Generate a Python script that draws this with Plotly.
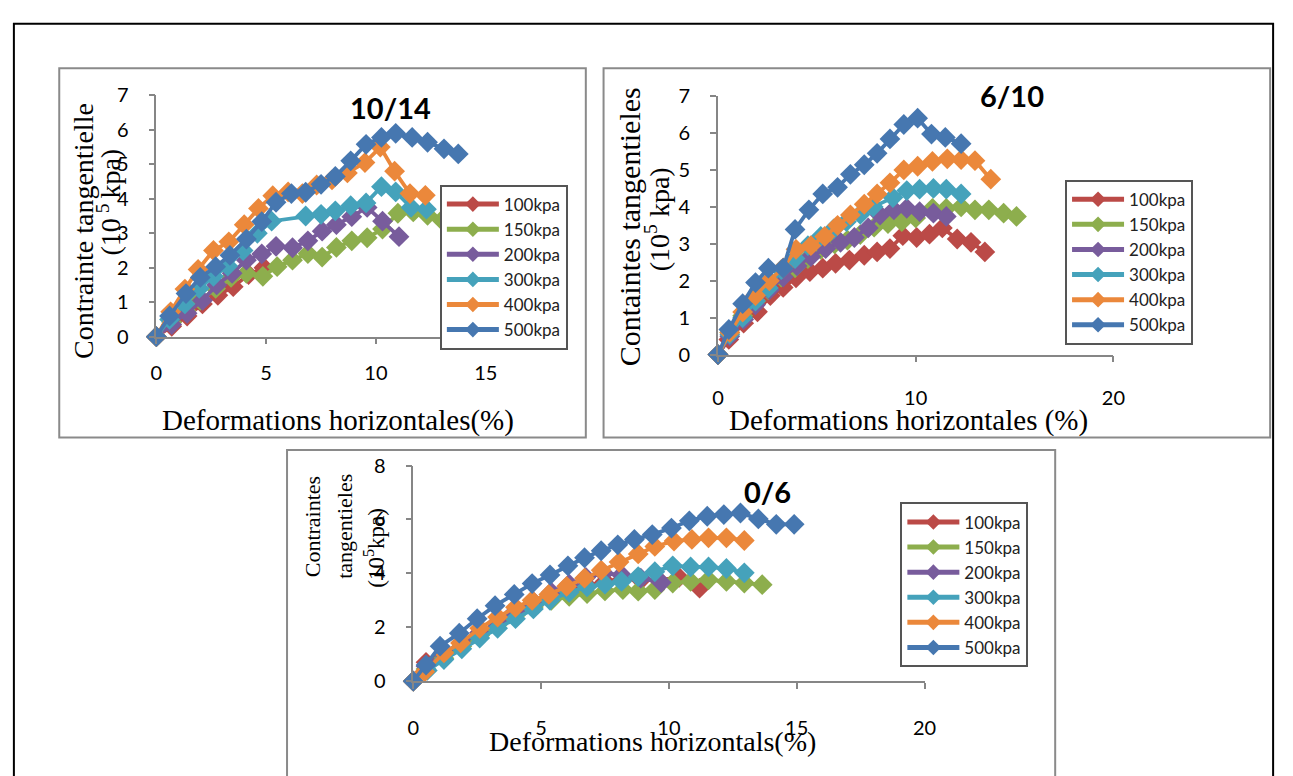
import plotly.graph_objects as go

W, H = 1293, 776

# ---- panel "10/14" ----
x_1014_100 = [0, 0.7, 1.4, 2.1, 2.8, 3.5, 4.2, 4.9]
y_1014_100 = [0, 0.3, 0.6, 0.95, 1.2, 1.45, 1.8, 2.0]
x_1014_150 = [0, 0.7, 1.35, 2.0, 2.7, 3.4, 4.1, 4.85, 5.5, 6.2, 6.9, 7.55, 8.2, 8.9, 9.6, 10.3, 11.0, 11.7, 12.35, 13.0]
y_1014_150 = [0, 0.42, 0.75, 1.05, 1.4, 1.72, 1.84, 1.75, 2.03, 2.22, 2.41, 2.31, 2.59, 2.78, 2.87, 3.12, 3.58, 3.62, 3.52, 3.38]
x_1014_200 = [0, 0.7, 1.4, 2.1, 2.75, 3.45, 4.1, 4.8, 5.45, 6.2, 6.9, 7.55, 8.2, 8.9, 9.6, 10.3, 11.05]
y_1014_200 = [0, 0.35, 0.68, 1.05, 1.5, 1.84, 2.22, 2.4, 2.62, 2.58, 2.78, 3.06, 3.25, 3.48, 3.75, 3.35, 2.9]
x_1014_300 = [0, 0.6, 1.3, 1.95, 2.6, 3.25, 3.95, 4.6, 5.25, 6.8, 7.5, 8.15, 8.85, 9.55, 10.25, 10.9, 11.6, 12.3]
y_1014_300 = [0, 0.5, 0.95, 1.4, 1.75, 2.05, 2.5, 3.0, 3.35, 3.5, 3.55, 3.65, 3.8, 3.88, 4.35, 4.2, 3.75, 3.7]
x_1014_400 = [0, 0.65, 1.3, 1.9, 2.6, 3.3, 4.0, 4.65, 5.3, 6.0, 6.65, 7.3, 8.0, 8.7, 9.5, 10.2, 10.85, 11.55, 12.25]
y_1014_400 = [0, 0.72, 1.38, 1.95, 2.5, 2.75, 3.25, 3.72, 4.09, 4.2, 4.15, 4.4, 4.55, 4.75, 5.05, 5.5, 4.8, 4.15, 4.1]
x_1014_500 = [0, 0.6, 1.35, 2.0, 2.7, 3.35, 4.1, 4.8, 5.45, 6.15, 6.8, 7.5, 8.15, 8.85, 9.55, 10.25, 10.9, 11.65, 12.35, 13.1, 13.75]
y_1014_500 = [0, 0.6, 1.25, 1.72, 2.03, 2.36, 2.83, 3.34, 3.9, 4.15, 4.19, 4.42, 4.65, 5.1, 5.58, 5.78, 5.9, 5.78, 5.64, 5.45, 5.3]

# ---- panel "6/10" ----
x_610_100 = [0, 0.55, 1.3, 2.0, 2.65, 3.3, 3.95, 4.65, 5.3, 5.95, 6.65, 7.4, 8.05, 8.7, 9.35, 10.05, 10.7, 11.35, 12.1, 12.8, 13.5]
y_610_100 = [0, 0.41, 0.85, 1.16, 1.6, 1.82, 2.08, 2.25, 2.34, 2.47, 2.56, 2.69, 2.78, 2.87, 3.22, 3.17, 3.26, 3.43, 3.13, 3.04, 2.78]
x_610_150 = [0, 0.6, 1.25, 1.9, 2.55, 3.2, 3.9, 4.55, 5.2, 5.9, 6.55, 7.2, 7.9, 8.6, 9.3, 10.0, 10.85, 11.55, 12.3, 13.0, 13.7, 14.45, 15.1]
y_610_150 = [0, 0.6, 1.05, 1.45, 1.75, 2.1, 2.35, 2.6, 2.85, 3.0, 3.1, 3.25, 3.45, 3.55, 3.6, 3.7, 3.96, 3.96, 4.0, 3.92, 3.92, 3.83, 3.74]
x_610_200 = [0, 0.6, 1.3, 1.9, 2.6, 3.3, 4.0, 4.7, 5.45, 6.2, 6.9, 7.6, 8.2, 8.9, 9.55, 10.2, 10.9, 11.55]
y_610_200 = [0, 0.5, 0.95, 1.35, 1.75, 2.1, 2.4, 2.65, 2.87, 3.04, 3.17, 3.43, 3.78, 3.92, 3.96, 3.87, 3.83, 3.74]
x_610_300 = [0, 0.6, 1.25, 1.9, 2.55, 3.2, 3.9, 4.55, 5.2, 5.85, 6.5, 7.2, 7.85, 8.85, 9.55, 10.2, 10.9, 11.55, 12.3]
y_610_300 = [0, 0.55, 1.0, 1.45, 1.8, 2.3, 2.6, 2.95, 3.2, 3.4, 3.6, 3.8, 4.0, 4.25, 4.44, 4.48, 4.5, 4.48, 4.35]
x_610_400 = [0, 0.6, 1.25, 1.9, 2.6, 3.3, 3.95, 4.7, 5.4, 6.05, 6.7, 7.4, 8.05, 8.7, 9.4, 10.1, 10.85, 11.6, 12.3, 13.0, 13.8]
y_610_400 = [0, 0.6, 1.15, 1.6, 2.0, 2.35, 2.85, 2.95, 3.2, 3.5, 3.78, 4.07, 4.35, 4.65, 5.0, 5.1, 5.23, 5.3, 5.28, 5.25, 4.75]
x_610_500 = [0, 0.55, 1.25, 1.9, 2.55, 3.3, 3.9, 4.6, 5.3, 6.05, 6.7, 7.4, 8.05, 8.7, 9.4, 10.1, 10.8, 11.5, 12.3]
y_610_500 = [0, 0.68, 1.38, 1.95, 2.34, 2.34, 3.39, 3.92, 4.35, 4.53, 4.88, 5.14, 5.45, 5.84, 6.23, 6.4, 5.97, 5.88, 5.71]

# ---- panel "0/6" ----
x_06_100 = [0, 0.5, 1.2, 1.9, 2.6, 3.3, 4.0, 4.7, 5.4, 6.1, 6.8, 7.5, 8.2, 8.9, 9.6, 10.4, 11.2]
y_06_100 = [0, 0.7, 1.05, 1.45, 1.8, 2.15, 2.5, 2.8, 3.1, 3.35, 3.55, 3.7, 3.8, 3.75, 3.75, 3.85, 3.45]
x_06_150 = [0, 0.5, 1.2, 1.9, 2.6, 3.3, 4.0, 4.7, 5.4, 6.1, 6.8, 7.5, 8.2, 8.8, 9.45, 10.15, 10.85, 11.55, 12.25, 12.95, 13.65]
y_06_150 = [0, 0.45, 0.85, 1.3, 1.7, 2.1, 2.45, 2.75, 3.0, 3.15, 3.25, 3.35, 3.4, 3.34, 3.4, 3.64, 3.7, 3.76, 3.7, 3.64, 3.58]
x_06_200 = [0, 0.5, 1.2, 1.9, 2.6, 3.3, 4.0, 4.7, 5.4, 6.1, 6.75, 7.45, 8.15, 8.9, 9.7]
y_06_200 = [0, 0.55, 1.0, 1.4, 1.8, 2.2, 2.6, 2.95, 3.3, 3.6, 3.85, 4.0, 3.94, 3.82, 3.66]
x_06_300 = [0, 0.55, 1.2, 1.9, 2.6, 3.3, 4.0, 4.7, 5.35, 6.1, 6.8, 7.5, 8.15, 8.8, 9.45, 10.15, 10.85, 11.55, 12.25, 12.95]
y_06_300 = [0, 0.4, 0.8, 1.2, 1.6, 1.96, 2.32, 2.68, 3.0, 3.3, 3.5, 3.6, 3.7, 3.88, 4.06, 4.28, 4.24, 4.24, 4.18, 4.02]
x_06_400 = [0, 0.45, 1.2, 1.85, 2.6, 3.3, 4.0, 4.65, 5.3, 6.0, 6.7, 7.35, 8.05, 8.8, 9.45, 10.2, 10.9, 11.55, 12.25, 12.95]
y_06_400 = [0, 0.35, 1.05, 1.42, 1.96, 2.38, 2.74, 3.0, 3.22, 3.52, 3.82, 4.12, 4.42, 4.72, 5.0, 5.2, 5.26, 5.32, 5.32, 5.22]
x_06_500 = [0, 0.5, 1.05, 1.8, 2.5, 3.2, 3.95, 4.65, 5.35, 6.05, 6.7, 7.35, 8.0, 8.65, 9.35, 10.1, 10.8, 11.5, 12.15, 12.8, 13.5, 14.2, 14.9]
y_06_500 = [0, 0.6, 1.3, 1.78, 2.32, 2.8, 3.22, 3.62, 3.94, 4.28, 4.58, 4.84, 5.06, 5.26, 5.44, 5.68, 5.95, 6.12, 6.18, 6.24, 6.02, 5.82, 5.82]

series_names = ["100kpa", "150kpa", "200kpa", "300kpa", "400kpa", "500kpa"]
series_colors = ["#BB4A47", "#8DAE4D", "#785C9C", "#45A2BB", "#EB883B", "#4677B0"]

panels = [
    ("x", "y", "legend", [(x_1014_100, y_1014_100), (x_1014_150, y_1014_150), (x_1014_200, y_1014_200),
                          (x_1014_300, y_1014_300), (x_1014_400, y_1014_400), (x_1014_500, y_1014_500)]),
    ("x2", "y2", "legend2", [(x_610_100, y_610_100), (x_610_150, y_610_150), (x_610_200, y_610_200),
                             (x_610_300, y_610_300), (x_610_400, y_610_400), (x_610_500, y_610_500)]),
    ("x3", "y3", "legend3", [(x_06_100, y_06_100), (x_06_150, y_06_150), (x_06_200, y_06_200),
                             (x_06_300, y_06_300), (x_06_400, y_06_400), (x_06_500, y_06_500)]),
]


def px(v):
    """Pixel column -> paper x."""
    return v / W


def py(v):
    """Pixel row -> paper y."""
    return 1 - v / H


fig = go.Figure()
for xa, ya, leg, data in panels:
    for name, color, (xs, ys) in zip(series_names, series_colors, data):
        fig.add_trace(go.Scatter(
            x=xs, y=ys, name=name, mode="lines+markers",
            xaxis=xa, yaxis=ya, legend=leg, cliponaxis=False,
            line=dict(color=color, width=3.8),
            marker=dict(symbol="diamond", size=16, color=color, line=dict(width=0)),
        ))

tick_font = dict(family="Lato, Carlito, sans-serif", size=20, color="black")
serif = "Liberation Serif, Times New Roman, serif"
axis_common = dict(showline=True, linecolor="#868686", linewidth=1.5, ticks="outside",
                   ticklen=6, tickcolor="#868686", tickwidth=1.5, showgrid=False,
                   zeroline=False, tickfont=tick_font)

legend_common = dict(bgcolor="white", bordercolor="#555555", borderwidth=2,
                     font=dict(family="Lato, sans-serif", size=17, color="#222"),
                     xanchor="left", yanchor="top", itemsizing="constant",
                     itemwidth=52, traceorder="normal")

fig.update_layout(
    width=W, height=H, margin=dict(l=0, r=0, t=0, b=0),
    paper_bgcolor="white", plot_bgcolor="white",
    xaxis=dict(domain=[px(152.5), px(486.5)], range=[0, 15], dtick=5, anchor="y",
               ticklabelstandoff=12, **axis_common),
    yaxis=dict(domain=[py(334), py(85)], range=[0, 7], dtick=1, anchor="x",
               ticklabelstandoff=16, **axis_common),
    xaxis2=dict(domain=[px(722), px(1123)], range=[0, 20], dtick=10, anchor="y2",
                ticklabelstandoff=19, **axis_common),
    yaxis2=dict(domain=[py(352.5), py(85.7)], range=[0, 7], dtick=1, anchor="x2",
                ticklabelstandoff=16, **axis_common),
    xaxis3=dict(domain=[px(413), px(931.5)], range=[0, 20], dtick=5, anchor="y3",
                ticklabelstandoff=22, **axis_common),
    yaxis3=dict(domain=[py(689.5), py(467)], range=[0, 8], dtick=2, anchor="x3",
                ticklabelstandoff=16, **axis_common),
    legend=dict(x=px(440), y=py(177), **legend_common),
    legend2=dict(x=px(1074), y=py(172), **legend_common),
    legend3=dict(x=px(907), y=py(505), **legend_common),
    showlegend=True,
)

# Frames: outer black border and the three grey chart boxes
shapes = [
    dict(x0=px(8), x1=px(1285), y0=py(11), y1=py(900), line=dict(color="black", width=2)),
    dict(x0=px(54), x1=px(588), y0=py(57), y1=py(438), line=dict(color="#8a8a8a", width=2)),
    dict(x0=px(606), x1=px(1282), y0=py(57), y1=py(438), line=dict(color="#8a8a8a", width=2)),
    dict(x0=px(285), x1=px(1064), y0=py(451), y1=py(900), line=dict(color="#8a8a8a", width=2)),
]
for s in shapes:
    fig.add_shape(type="rect", xref="paper", yref="paper", fillcolor="rgba(0,0,0,0)",
                  layer="below", **s)


def note(text, x, y, size, family=serif, angle=0, bold=False):
    fig.add_annotation(text=f"<b>{text}</b>" if bold else text, x=px(x), y=py(y),
                       xref="paper", yref="paper", showarrow=False, textangle=angle,
                       xanchor="center", yanchor="middle",
                       font=dict(family=family, size=size, color="black"))


sans_bold = "Lato, Open Sans, sans-serif"
note("10/14", 390, 98, 29, sans_bold, bold=True)
note("6/10", 1020, 85, 29, sans_bold, bold=True)
note("0/6", 772, 494, 29, sans_bold, bold=True)

note("Contrainte tangentielle", 78, 225, 28, angle=-90)
note("(10<sup> 5 </sup>kpa)", 105, 195, 28, angle=-90)
note("Containtes tangentieles", 632, 221, 30, angle=-90)
note("(10<sup>5</sup> kpa)", 661, 213, 28, angle=-90)
note("Contraintes", 311, 530, 22, angle=-90)
note("tangentieles", 343, 530, 22, angle=-90)
note("(10<sup>5</sup>kpa)", 374, 552, 23, angle=-90)

note("Deformations horizontales(%)", 337, 421, 29)
note("Deformations horizontales (%)", 915, 420, 29)
note("Deformations horizontals(%)", 656, 752, 28)

fig.write_html("out.html")
